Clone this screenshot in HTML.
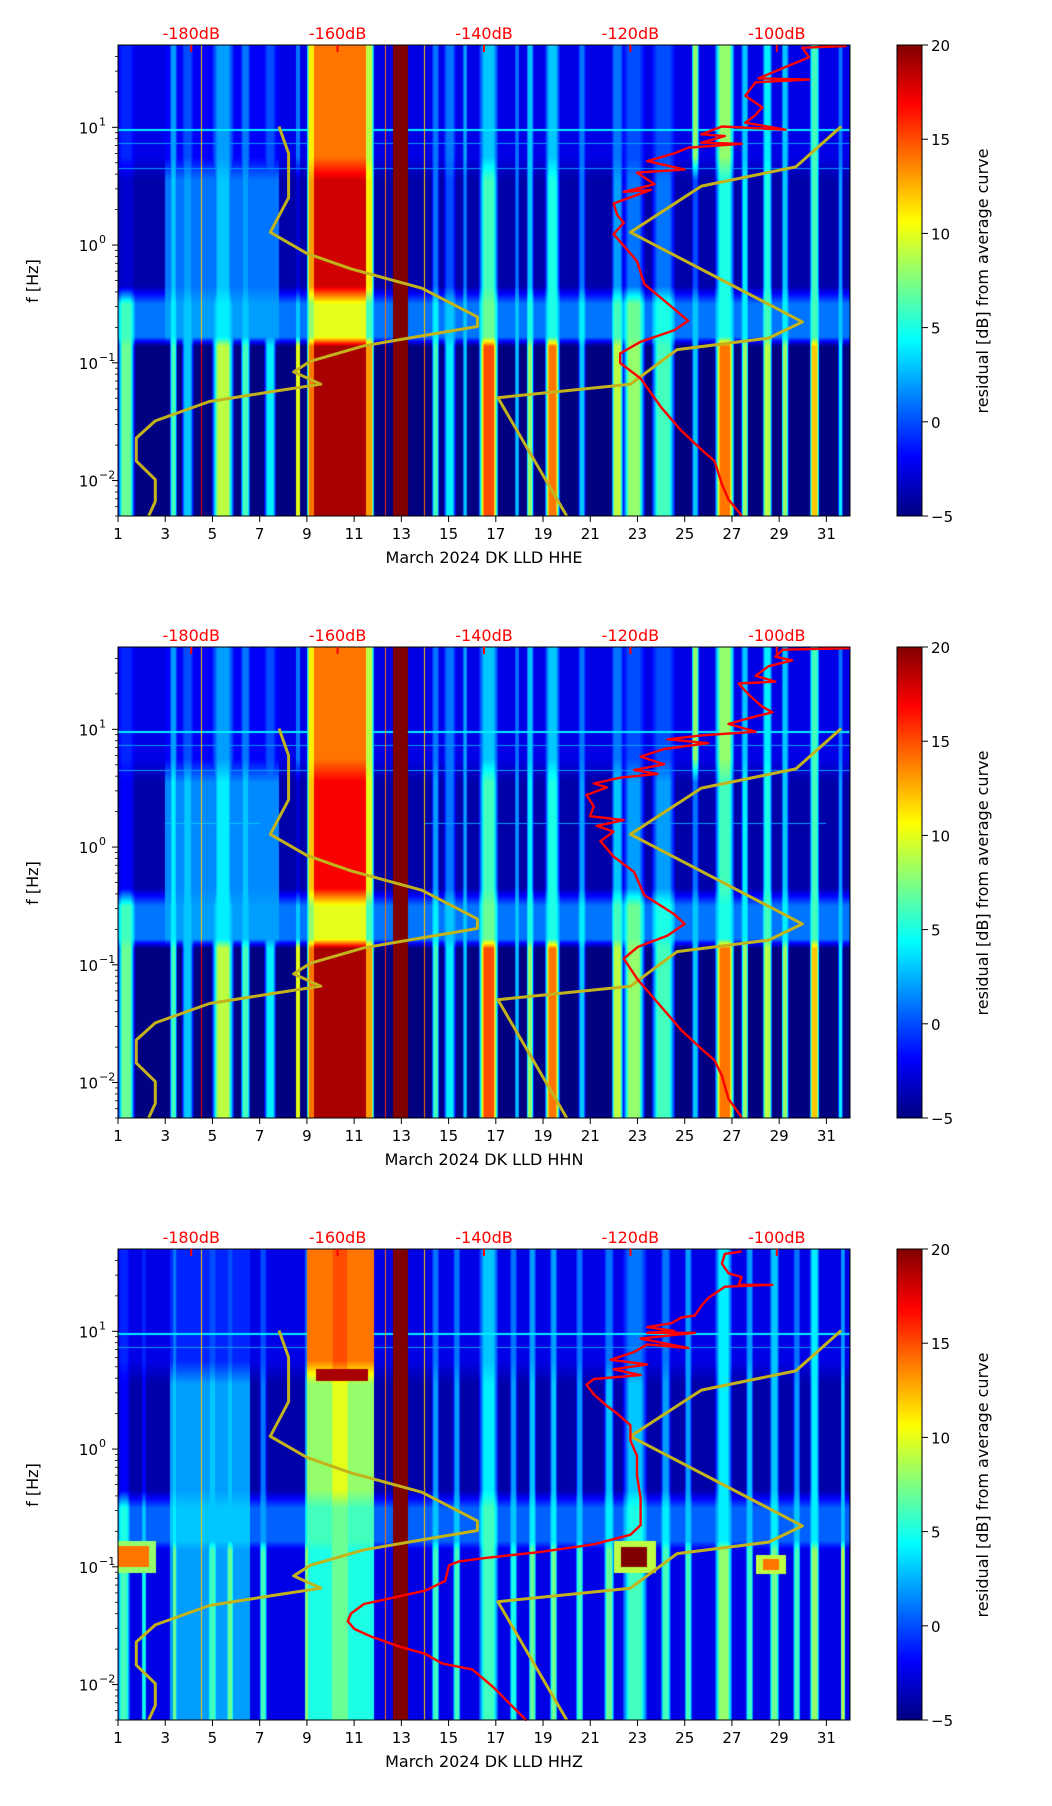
<!DOCTYPE html>
<html><head><meta charset="utf-8">
<style>
html,body{margin:0;padding:0;background:#fff;}
#wrap{position:relative;width:1052px;height:1806px;overflow:hidden;font-family:"DejaVu Sans","Liberation Sans",sans-serif;}
canvas{position:absolute;}
svg{position:absolute;left:0;top:0;}
</style></head>
<body>
<div id="wrap">
<canvas id="c0" width="732" height="471" style="left:118px;top:45px"></canvas>
<canvas id="c1" width="732" height="471" style="left:118px;top:647px"></canvas>
<canvas id="c2" width="732" height="471" style="left:118px;top:1249px"></canvas>
<svg id="ov" width="1052" height="1806">
<defs><linearGradient id="jet" x1="0" y1="1" x2="0" y2="0">
<stop offset="0" stop-color="#000080"/><stop offset="0.125" stop-color="#0000ff"/><stop offset="0.375" stop-color="#00ffff"/><stop offset="0.625" stop-color="#ffff00"/><stop offset="0.875" stop-color="#ff0000"/><stop offset="1" stop-color="#800000"/>
</linearGradient></defs>
</svg>
</div>
<script>
// ---- data ----
const dayTicks=[1,3,5,7,9,11,13,15,17,19,21,23,25,27,29,31];
const dbTicks=[-180,-160,-140,-120,-100];
const freqDecades=[-2,-1,0,1];
const cbTicks=[-5,0,5,10,15,20];
const panelTitles=["March 2024 DK LLD  HHE","March 2024 DK LLD  HHN","March 2024 DK LLD  HHZ"];

const nlnmLogF=[1.007,0.778,0.402,0.108,-0.071,-0.202,-0.366,-0.610,-0.692,-0.767,-0.856,-0.986,-1.077,-1.182,-1.247,-1.329,-1.493,-1.639,-1.835,-1.992,-2.178,-2.30];
const nlnmDB=[-168.0,-166.7,-166.7,-169.2,-164.2,-158.2,-148.5,-140.9,-140.9,-148.1,-156.4,-163.7,-166.0,-162.3,-169.2,-177.5,-184.9,-187.5,-187.5,-184.9,-184.9,-185.8];
const nhnmLogF=[1.007,0.664,0.501,0.108,-0.653,-0.790,-0.888,-1.182,-1.296,-2.30];
const nhnmDB=[-91.2,-97.4,-110.3,-120.0,-96.5,-101.1,-113.6,-120.0,-138.1,-128.7];

const redE_DB=[-90.5,-96.5,-95.6,-99.2,-102.5,-95.6,-102.9,-104.3,-102.0,-102.9,-104.3,-98.8,-107.5,-110.3,-107.1,-110.3,-104.8,-112.1,-114.0,-117.7,-112.6,-119.1,-116.7,-120.9,-117.2,-122.3,-121.8,-120.9,-122.3,-120.9,-119.1,-118.1,-114.9,-112.1,-114.0,-118.6,-121.4,-121.4,-118.6,-115.8,-113.1,-110.3,-108.5,-107.5,-106.6,-104.8];
const redE_LogF=[1.69,1.676,1.594,1.503,1.415,1.405,1.382,1.268,1.170,1.105,1.039,0.98,1.007,0.941,0.925,0.869,0.860,0.827,0.778,0.713,0.641,0.615,0.517,0.451,0.468,0.353,0.255,0.190,0.092,-0.006,-0.137,-0.332,-0.496,-0.643,-0.724,-0.822,-0.920,-1.002,-1.133,-1.377,-1.573,-1.737,-1.835,-2.031,-2.161,-2.298];
const redN_DB=[-90.0,-99.2,-100.2,-97.9,-101.1,-102.9,-100.2,-105.2,-103.8,-102.0,-100.6,-103.8,-106.6,-102.9,-110.3,-114.9,-109.4,-115.4,-118.6,-115.4,-119.5,-116.3,-121.4,-125.0,-123.2,-126.0,-125.0,-125.5,-120.9,-124.6,-122.3,-124.1,-122.3,-119.5,-118.1,-114.0,-112.6,-114.9,-119.0,-120.9,-119.0,-115.8,-113.1,-110.3,-108.5,-107.5,-106.6,-104.8];
const redN_LogF=[1.689,1.676,1.617,1.585,1.536,1.454,1.405,1.389,1.291,1.193,1.144,1.095,1.046,0.980,0.948,0.915,0.882,0.833,0.768,0.703,0.654,0.621,0.589,0.540,0.507,0.442,0.344,0.262,0.229,0.180,0.131,0.050,-0.081,-0.212,-0.408,-0.571,-0.653,-0.751,-0.849,-0.947,-1.126,-1.355,-1.551,-1.714,-1.812,-1.942,-2.138,-2.295];
const redZ_DB=[-104.8,-107.1,-107.5,-106.6,-104.8,-105.2,-100.6,-107.1,-109.4,-110.3,-111.2,-113.0,-114.4,-117.7,-114.0,-117.7,-111.2,-118.6,-112.1,-117.7,-119.5,-122.7,-117.7,-122.3,-118.6,-125.0,-126.0,-125.0,-123.2,-121.8,-120.0,-120.0,-119.1,-119.1,-118.6,-118.6,-120.0,-125.0,-132.4,-139.8,-143.5,-144.8,-145.3,-148.0,-152.7,-156.4,-158.2,-158.6,-157.7,-155.4,-151.7,-148.0,-145.7,-141.6,-138.8,-134.2];
const redZ_LogF=[1.679,1.657,1.575,1.493,1.461,1.395,1.395,1.379,1.281,1.216,1.134,1.118,1.069,1.036,1.003,0.987,0.987,0.938,0.857,0.889,0.824,0.758,0.719,0.677,0.628,0.595,0.546,0.464,0.366,0.301,0.203,0.073,-0.058,-0.222,-0.417,-0.646,-0.728,-0.809,-0.875,-0.924,-0.956,-0.989,-1.120,-1.202,-1.267,-1.316,-1.398,-1.463,-1.528,-1.593,-1.675,-1.740,-1.822,-1.871,-2.018,-2.305];

// stripes: [dayStart, dayEnd, highBand dB, midBand dB, microseismBand dB, lowBand dB]
const stripesE=[[1.0,1.7,-1,-3,6,7],[3.0,7.8,-2,1,2,-5],[3.2,3.5,2,3,4,6],[3.7,4.2,0,2,3,3],[4.5,4.56,12,12,12,17],[5.0,5.9,2,3,4,9],[6.2,6.6,1,2,3,6],[7.2,7.7,0,0,2,4],[8.55,8.7,1,-3,3,10],[9.0,9.4,11,13,8,14],[9.3,11.5,14,18,10,19],[11.4,11.85,9,11,6,13],[12.3,12.33,14,14,14,16],[12.65,13.3,20,20,20,20],[13.96,13.99,12,12,12,14],[14.3,14.6,1,1,4,6],[14.8,15.3,1,0,3,4],[15.6,15.8,2,1,3,3],[16.3,17.1,3,6,7,15],[17.8,18.0,1,1,3,3],[18.3,18.6,3,3,5,8],[19.1,19.7,3,5,5,14],[20.5,20.8,1,1,4,3],[21.9,22.4,1,2,6,9],[22.4,23.3,0,1,7,8],[23.6,24.6,0,1,5,6],[25.3,25.6,8,0,3,3],[26.3,27.1,8,5,5,14],[27.4,27.7,3,4,4,8],[28.3,28.7,4,5,6,9],[29.1,29.4,3,3,4,8],[30.3,30.7,6,6,6,12],[31.5,31.7,1,2,3,4]];
const stripesN=[[1.0,1.7,-1,-2,6,7],[3.0,7.8,-2,1.5,2,-5],[3.2,3.5,2,4,4,6],[3.7,4.2,0,3,3,3],[4.5,4.56,12,12,12,17],[5.0,5.9,2,4,4,9],[6.2,6.6,1,3,3,6],[7.2,7.7,0,1,2,4],[8.55,8.7,1,-3,3,10],[9.0,9.4,11,12,8,14],[9.3,11.5,14,17,10,19],[11.4,11.85,9,10,6,13],[12.3,12.33,14,14,14,16],[12.65,13.3,20,20,20,20],[13.96,13.99,12,12,12,14],[14.3,14.6,1,2,4,6],[14.8,15.3,1,1,3,4],[15.6,15.8,2,2,3,3],[16.3,17.1,3,6,7,15],[17.8,18.0,1,2,3,3],[18.3,18.6,3,4,5,8],[19.1,19.7,3,5,5,14],[20.5,20.8,1,2,4,3],[21.9,22.4,1,3,6,9],[22.4,23.3,0,2,7,8],[23.6,24.6,0,2,5,6],[25.3,25.6,8,1,3,3],[26.3,27.1,8,6,5,14],[27.4,27.7,3,4,4,8],[28.3,28.7,4,5,6,9],[29.1,29.4,3,3,4,8],[30.3,30.7,6,6,6,12],[31.5,31.7,1,2,3,4]];
const stripesZ=[[1.0,1.5,-1,-2,5,6],[2.0,2.2,-1,-2,3,5],[3.2,6.6,-1,2,3,2],[3.3,3.5,1,3,4,7],[4.5,4.56,12,12,12,12],[4.8,5.2,0,3,3,6],[5.6,5.9,0,3,3,7],[7.0,7.3,0,1,2,6],[8.9,9.1,1,3,4,8],[9.0,11.85,14,8,6,5],[9.8,11.0,15,10,7,7],[12.3,12.33,14,14,14,14],[12.65,13.3,20,20,20,20],[13.96,13.99,12,12,12,12],[14.3,14.6,1,2,3,6],[15.2,15.5,1,2,3,6],[16.3,17.1,3,4,6,6],[17.6,17.9,1,2,3,5],[18.4,18.7,2,3,4,7],[19.3,19.6,2,3,4,7],[20.4,20.7,1,2,3,6],[21.6,22.0,1,3,4,7],[22.4,23.4,1,3,5,6],[24.0,24.4,1,2,4,6],[25.0,25.3,2,2,3,6],[26.3,27.0,4,4,4,8],[27.6,27.9,2,3,3,6],[28.6,29.0,3,3,4,7],[29.6,29.9,1,2,3,6],[30.3,30.7,4,4,4,8],[31.6,31.8,2,3,3,9]];
// backgrounds: [high, mid, micro, low]
const bgE=[-2.5,-4,1,-5];
const bgN=[-2.5,-4,1,-5];
const bgZ=[-2.5,-4,0.5,-2.5];
// blobs: [dayStart, dayEnd, logfLow, logfHigh, dB]
const blobsE=[];
const blobsN=[];
const blobsZ=[[1.0,2.6,-1.05,-0.78,8],[1.0,2.3,-1.0,-0.82,14],[22.0,23.8,-1.05,-0.78,9],[22.3,23.4,-1.0,-0.83,20],[28.0,29.3,-1.06,-0.9,9],[28.3,29.0,-1.03,-0.93,14],[9.4,11.6,0.58,0.68,19]];
// horizontal lines: [logf, dB, dayStart, dayEnd]
const hlinesE=[[0.978,4,1,32],[0.86,2,1,32],[0.65,2,1,32]];
const hlinesN=[[0.978,4,1,32],[0.86,2,1,32],[0.65,2,1,32],[0.2,3,3,7],[0.2,2,14,31]];
const hlinesZ=[[0.978,4,1,32],[0.86,2,1,32]];

// ---- axes ----
const L=118,W=732,H=471,TOPS=[45,647,1249];
const D0=1,D1=32,LF0=Math.log10(0.005),LF1=Math.log10(50),DB0=-190,DB1=-90,V0=-5,V1=20;
function xDay(d){return L+(d-D0)/(D1-D0)*W;}
function xDB(db){return L+(db-DB0)/(DB1-DB0)*W;}
function yLF(T,lf){return T+(LF1-lf)/(LF1-LF0)*H;}
function jet(v){const t=Math.max(0,Math.min(1,(v-V0)/(V1-V0)));const c=x=>Math.max(0,Math.min(1,1.5-Math.abs(4*t-x)));return [c(3)*255,c(2)*255,c(1)*255];}
function profile(vals,lf){
  const a=[1.7,0.75,0.55,-0.35,-0.5,-0.78,-0.86,-2.31];
  const v=[vals[0],vals[0],vals[1],vals[1],vals[2],vals[2],vals[3],vals[3]];
  if(lf>=a[0])return v[0];
  for(let i=0;i<a.length-1;i++){if(lf<=a[i]&&lf>=a[i+1]){const f=(a[i]-lf)/(a[i]-a[i+1]);return v[i]+(v[i+1]-v[i])*f;}}
  return v[v.length-1];
}
function drawSpec(id,stripes,bg,blobs,hlines){
  const cv=document.getElementById(id),ctx=cv.getContext('2d');
  const img=ctx.createImageData(W,H),d=img.data;
  const bgCol=[];for(let py=0;py<H;py++){bgCol.push(profile(bg,LF1-(py+0.5)/H*(LF1-LF0)));}
  for(let px=0;px<W;px++){
    const day=D0+(px+0.5)/W*(D1-D0);
    const act=stripes.filter(s=>day>=s[0]&&day<=s[1]);
    const ab=blobs.filter(b=>day>=b[0]&&day<=b[1]);
    const ah=hlines.filter(h=>day>=h[2]&&day<=h[3]);
    for(let py=0;py<H;py++){
      const lf=LF1-(py+0.5)/H*(LF1-LF0);
      const b0=bgCol[py];
      let v=b0;
      for(const s of act){
        let p=profile(s.slice(2),lf);
        const w=s[1]-s[0];
        if(w>0.15&&w<1.5&&s[2]<20){const sh=Math.min(1,3*Math.min(day-s[0],s[1]-day)/w+0.25);p=b0+(p-b0)*sh;}
        if(p>v)v=p;
      }
      for(const b of ab){if(lf>=b[2]&&lf<=b[3]&&b[4]>v)v=b[4];}
      for(const h of ah){if(Math.abs(lf-h[0])<0.006&&h[1]>v)v=h[1];}
      const c=jet(v),k=(py*W+px)*4;d[k]=c[0];d[k+1]=c[1];d[k+2]=c[2];d[k+3]=255;
    }
  }
  ctx.putImageData(img,0,0);
}
drawSpec('c0',stripesE,bgE,blobsE,hlinesE);
drawSpec('c1',stripesN,bgN,blobsN,hlinesN);
drawSpec('c2',stripesZ,bgZ,blobsZ,hlinesZ);

const NS='http://www.w3.org/2000/svg',ov=document.getElementById('ov');
function mk(tag,attrs,parent){const e=document.createElementNS(NS,tag);for(const k in attrs)e.setAttribute(k,attrs[k]);(parent||ov).appendChild(e);return e;}
function txt(s,attrs,parent){const e=mk('text',attrs,parent);e.textContent=s;return e;}
const reds=[[redE_DB,redE_LogF],[redN_DB,redN_LogF],[redZ_DB,redZ_LogF]];
TOPS.forEach((T,p)=>{
  const g=mk('g',{});
  
  
  let pts=nlnmLogF.map((lf,i)=>xDB(nlnmDB[i]).toFixed(1)+','+yLF(T,lf).toFixed(1)).join(' ');
  const c1=mk('polyline',{points:pts,fill:'none',stroke:'#c2b31c','stroke-width':3,'stroke-linejoin':'round'},g);
  
  
  pts=nhnmLogF.map((lf,i)=>xDB(nhnmDB[i]).toFixed(1)+','+yLF(T,lf).toFixed(1)).join(' ');
  const c2=mk('polyline',{points:pts,fill:'none',stroke:'#c2b31c','stroke-width':3,'stroke-linejoin':'round'},g);
  
  
  const [rd,rl]=reds[p];
  pts=rl.map((lf,i)=>xDB(rd[i]).toFixed(1)+','+yLF(T,lf).toFixed(1)).join(' ');
  const c3=mk('polyline',{points:pts,fill:'none',stroke:'#ff0000','stroke-width':2.4,'stroke-linejoin':'round'},g);
  
  
  const fr=mk('rect',{x:L,y:T,width:W,height:H,fill:'none',stroke:'#000','stroke-width':1},g);
  
  
  dayTicks.forEach(d=>{
    const x=xDay(d);
    mk('line',{x1:x,y1:T+H,x2:x,y2:T+H+6,stroke:'#000'},g);
    const t=txt(String(d),{x:x,y:T+H+23,'font-size':15,'text-anchor':'middle',fill:'#000'},g);
    
    
  });
  const xl=txt(panelTitles[p],{x:L+W/2,y:T+H+47,'font-size':16,'text-anchor':'middle',fill:'#000'},g);
  
  
  dbTicks.forEach(db=>{
    const x=xDB(db);
    mk('line',{x1:x,y1:T,x2:x,y2:T+7,stroke:'#ff0000','stroke-width':2},g);
    const t=txt(db+'dB',{x:x,y:T-6,'font-size':16,'text-anchor':'middle',fill:'#ff0000'},g);
    
    
  });
  freqDecades.forEach(e=>{
    const y=yLF(T,e);
    mk('line',{x1:L-6,y1:y,x2:L,y2:y,stroke:'#000'},g);
    const t=txt('10',{x:L-20,y:y+6,'font-size':15,'text-anchor':'end',fill:'#000'},g);
    
    
    txt(e<0?'\u2212'+(-e):String(e),{x:L-19,y:y-2,'font-size':11,'text-anchor':'start',fill:'#000'},g);
    for(let m=2;m<=9;m++){const lf=e+Math.log10(m);if(lf<LF1)mk('line',{x1:L-3,y1:yLF(T,lf),x2:L,y2:yLF(T,lf),stroke:'#000','stroke-width':0.8},g);}
  });
  [Math.log10(0.005),Math.log10(0.006),Math.log10(0.007),Math.log10(0.008),Math.log10(0.009)].forEach(lf=>{mk('line',{x1:L-3,y1:yLF(T,lf),x2:L,y2:yLF(T,lf),stroke:'#000','stroke-width':0.8},g);});
  const yl=txt('f [Hz]',{x:0,y:0,'font-size':16,'text-anchor':'middle',fill:'#000',transform:'translate(38,'+(T+236)+') rotate(-90)'},g);
  
  
  const cb=mk('rect',{x:897,y:T,width:25,height:H,fill:'url(#jet)',stroke:'#000','stroke-width':1},g);
  
  
  cbTicks.forEach(v=>{
    const y=T+(V1-v)/(V1-V0)*H;
    mk('line',{x1:922,y1:y,x2:928,y2:y,stroke:'#000'},g);
    const t=txt(v<0?'\u2212'+(-v):String(v),{x:931,y:y+6,'font-size':15,'text-anchor':'start',fill:'#000'},g);
    
    
  });
  const cl=txt('residual [dB] from average curve',{x:0,y:0,'font-size':16,'text-anchor':'middle',fill:'#000',transform:'translate(988,'+(T+236)+') rotate(-90)'},g);
  
  
});
</script>
</body></html>
